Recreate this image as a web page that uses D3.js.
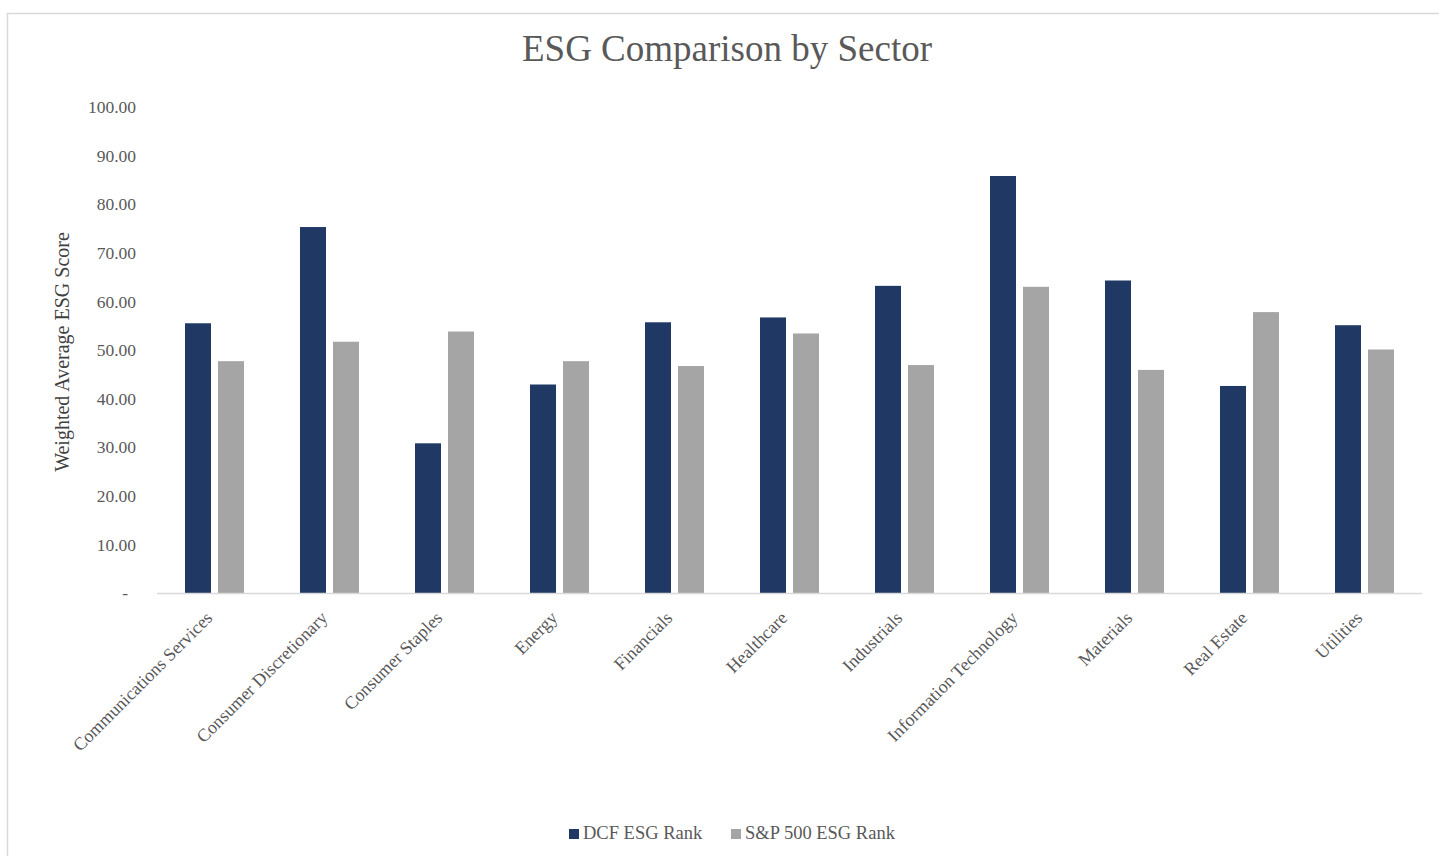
<!DOCTYPE html>
<html><head><meta charset="utf-8">
<script src="https://cdn.jsdelivr.net/npm/d3@7"></script>
<style>
html,body{margin:0;padding:0;background:#fff;}
svg{display:block;}
text{font-family:"Liberation Serif","DejaVu Serif",serif;}
</style></head>
<body>
<script>
const categories = ["Communications Services","Consumer Discretionary","Consumer Staples","Energy","Financials","Healthcare","Industrials","Information Technology","Materials","Real Estate","Utilities"];
const dcfValues = [55.5, 75.3, 30.8, 42.9, 55.7, 56.7, 63.2, 85.8, 64.3, 42.6, 55.1];
const spValues  = [47.7, 51.7, 53.8, 47.7, 46.7, 53.4, 46.9, 63.0, 45.9, 57.8, 50.1];
const seriesNames = ["DCF ESG Rank", "S&P 500 ESG Rank"];
const seriesColors = ["#1f3864", "#a5a5a5"];
const yTicks = [0,10,20,30,40,50,60,70,80,90,100];
const title = "ESG Comparison by Sector";
const yTitle = "Weighted Average ESG Score";

const W = 1439, H = 856;
const svg = d3.select("body").append("svg").attr("width", W).attr("height", H);

// outer frame
svg.append("rect").attr("x",7.5).attr("y",13.5).attr("width",W+10).attr("height",H+10)
  .attr("fill","none").attr("stroke","#d9d9d9").attr("stroke-width",1.5);

const plot = {left:157, right:1422, top:107, bottom:593};

const x = d3.scaleBand().domain(categories).range([plot.left, plot.right])
  .paddingInner(56/115).paddingOuter(28/115);
const xs = d3.scaleBand().domain(seriesNames).range([0, x.bandwidth()]).paddingInner(7/33);
const y = d3.scaleLinear().domain([0,100]).range([plot.bottom, plot.top]);

const data = categories.map((c,i)=>({cat:c, vals:[dcfValues[i], spValues[i]]}));

const g = svg.append("g");
g.selectAll("g.cat").data(data).join("g").attr("class","cat")
  .attr("transform", d=>`translate(${x(d.cat)},0)`)
  .selectAll("rect").data(d=>d.vals.map((v,j)=>({v, s:seriesNames[j], j})))
  .join("rect")
  .attr("x", d=>xs(d.s)).attr("width", xs.bandwidth())
  .attr("y", d=>y(d.v)).attr("height", d=>y(0)-y(d.v))
  .attr("fill", d=>seriesColors[d.j]);

// baseline
svg.append("line").attr("x1",plot.left).attr("x2",plot.right)
  .attr("y1",plot.bottom+0.5).attr("y2",plot.bottom+0.5)
  .attr("stroke","#d9d9d9").attr("stroke-width",1.5);

// y axis
const yAxis = d3.axisLeft(y).tickValues(yTicks).tickSize(0).tickPadding(0)
  .tickFormat(d=> d===0 ? "-" : d3.format(".2f")(d));
const ya = svg.append("g").attr("transform",`translate(136,0)`).call(yAxis);
ya.select(".domain").remove();
ya.selectAll("text").attr("font-family","Liberation Serif, serif").attr("font-size",17.5)
  .attr("fill","#595959").attr("dy","0.32em");
ya.selectAll(".tick").filter(d=>d===0).select("text").attr("x",-8);

// x axis labels
const xAxis = d3.axisBottom(x).tickSize(0).tickPadding(0);
const xa = svg.append("g").attr("transform",`translate(0,${plot.bottom})`).call(xAxis);
xa.select(".domain").remove();
xa.selectAll("text").attr("font-family","Liberation Serif, serif").attr("font-size",18)
  .attr("fill","#595959")
  .attr("text-anchor","end").attr("dy",null).attr("y",0)
  .attr("transform","translate(-1,26) rotate(-45)");

// title
svg.append("text").attr("x",727).attr("y",61).attr("text-anchor","middle")
  .attr("font-size",37).attr("fill","#595959").text(title);

// y title
svg.append("text").attr("transform","translate(69,352) rotate(-90)")
  .attr("text-anchor","middle").attr("font-size",20).attr("fill","#404040").text(yTitle);

// legend
const legX = [569, 731];
const leg = svg.append("g");
seriesNames.forEach((s,i)=>{
  leg.append("rect").attr("x",legX[i]).attr("y",829).attr("width",10).attr("height",10).attr("fill",seriesColors[i]);
  leg.append("text").attr("x",legX[i]+14).attr("y",839).attr("font-size",18.5).attr("fill","#595959").text(s);
});
</script>
</body></html>
